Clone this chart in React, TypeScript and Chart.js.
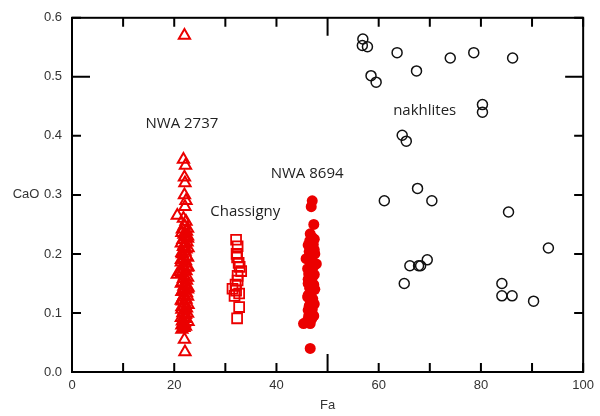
import React, { useEffect, useRef } from "react";
import { Chart, registerables } from "chart.js";

Chart.register(...registerables);

// NWA 2737 (open red triangles)
const FA_NWA2737 = [22.0, 21.8, 22.2, 22.0, 22.1, 22.0, 22.3, 22.1, 20.6, 21.8, 22.3, 22.0, 21.6, 22.4, 21.9, 22.2,
  21.7, 22.5, 22.0, 21.8, 22.3, 22.1, 21.6, 22.4, 21.9, 22.2, 22.0, 21.7, 22.5, 21.9, 22.3, 21.2, 20.6, 22.0, 21.8,
  22.4, 21.6, 22.2, 21.9, 22.1, 21.7, 22.4, 22.0, 21.8, 22.3, 21.6, 22.1, 21.9, 22.4, 22.0, 21.7, 22.2, 21.9, 22.3,
  21.6, 22.0, 21.8, 22.2, 21.5, 21.9, 22.0, 22.1,
  22.6, 21.5, 22.6, 21.4, 22.7, 21.5, 22.6, 21.4, 22.7, 21.5, 22.6, 21.4, 22.7, 21.5, 22.6, 21.4, 22.7, 21.5, 22.6,
  21.4, 22.7, 21.5, 22.6, 21.4, 22.6, 21.5];
const CAO_NWA2737 = [0.57, 0.36, 0.35, 0.33, 0.32, 0.30, 0.29, 0.28, 0.265, 0.26, 0.255, 0.248, 0.242, 0.238, 0.233,
  0.228, 0.224, 0.22, 0.216, 0.212, 0.208, 0.204, 0.2, 0.196, 0.192, 0.188, 0.184, 0.18, 0.177, 0.174, 0.171, 0.17,
  0.165, 0.162, 0.158, 0.155, 0.152, 0.148, 0.145, 0.141, 0.138, 0.134, 0.13, 0.127, 0.123, 0.12, 0.116, 0.112,
  0.108, 0.104, 0.1, 0.097, 0.093, 0.09, 0.086, 0.083, 0.08, 0.077, 0.072, 0.075, 0.055, 0.034,
  0.243, 0.236, 0.226, 0.218, 0.21, 0.202, 0.194, 0.186, 0.178, 0.168, 0.16, 0.15, 0.143, 0.136, 0.128, 0.121, 0.114,
  0.106, 0.099, 0.092, 0.085, 0.079, 0.14, 0.19, 0.23, 0.11];

// Chassigny (open red squares)
const FA_CHASSIGNY = [32.1, 32.4, 32.2, 32.3, 32.6, 32.8, 33.1, 32.4, 32.4, 32.0, 31.4, 32.1, 32.7, 31.8, 32.7, 32.3];
const CAO_CHASSIGNY = [0.224, 0.213, 0.2, 0.194, 0.185, 0.178, 0.171, 0.163, 0.155, 0.148, 0.141, 0.138, 0.133,
  0.129, 0.11, 0.091];

// NWA 8694 (filled red circles)
const FA_NWA8694 = [47.0, 46.8, 47.3, 46.6, 47.0, 46.5, 47.2, 46.8, 46.4, 47.1, 45.8, 47.8, 46.6, 47.2, 46.9, 46.3,
  47.0, 46.6, 47.3, 46.5, 46.9, 46.2, 47.1, 46.7, 46.4, 47.0, 46.6, 46.3, 46.9, 46.5, 45.3, 46.6, 46.6,
  47.4, 46.2, 47.5, 46.1, 47.4, 46.2, 47.5, 46.1, 47.4, 46.2, 47.3, 46.1, 47.4, 46.2];
const CAO_NWA8694 = [0.29, 0.28, 0.25, 0.234, 0.228, 0.222, 0.216, 0.21, 0.204, 0.198, 0.192, 0.183, 0.186, 0.178,
  0.172, 0.166, 0.16, 0.154, 0.148, 0.142, 0.136, 0.13, 0.124, 0.118, 0.112, 0.106, 0.1, 0.095, 0.09, 0.086, 0.082,
  0.082, 0.04,
  0.225, 0.215, 0.2, 0.175, 0.165, 0.15, 0.14, 0.127, 0.115, 0.105, 0.095, 0.088, 0.207, 0.157];

// nakhlites (open black circles)
const FA_NAKHLITES = [56.9, 56.8, 57.8, 63.6, 74.0, 78.6, 86.2, 67.4, 58.5, 59.5, 80.3, 80.3, 64.6, 65.4, 67.6, 61.1,
  70.4, 85.4, 93.2, 69.5, 66.1, 67.8, 68.2, 65.0, 84.1, 84.1, 86.1, 90.3];
const CAO_NAKHLITES = [0.564, 0.553, 0.551, 0.541, 0.532, 0.541, 0.532, 0.51, 0.502, 0.491, 0.453, 0.44, 0.401, 0.391,
  0.311, 0.29, 0.29, 0.271, 0.21, 0.19, 0.18, 0.18, 0.18, 0.15, 0.15, 0.129, 0.129, 0.12];

const X_TICKS = [0, 10, 20, 30, 40, 50, 60, 70, 80, 90, 100];
const Y_TICKS = [0, 0.1, 0.2, 0.3, 0.4, 0.5, 0.6];

const GROUP_LABELS = ["NWA 2737", "Chassigny", "NWA 8694", "nakhlites"];
const GROUP_LABEL_FA = [21.5, 33.9, 46.0, 69.0];
const GROUP_LABEL_CAO = [0.42, 0.271, 0.336, 0.442];

const zip = (xs: number[], ys: number[]) => xs.map((x, i) => ({ x, y: ys[i] }));

const RED = "rgb(235,0,0)";

const decorPlugin = {
  id: "decor",
  afterDraw(chart: any) {
    const { ctx, chartArea: a, scales } = chart;
    const xs = scales.x;
    const ys = scales.y;
    ctx.save();
    ctx.strokeStyle = "#000";
    ctx.lineWidth = 2;
    ctx.strokeRect(a.left, a.top, a.right - a.left, a.bottom - a.top);
    ctx.beginPath();
    X_TICKS.forEach((v) => {
      const px = xs.getPixelForValue(v);
      const len = v === 50 ? 18 : 9;
      ctx.moveTo(px, a.bottom);
      ctx.lineTo(px, a.bottom - len);
      ctx.moveTo(px, a.top);
      ctx.lineTo(px, a.top + len);
    });
    Y_TICKS.forEach((v) => {
      const py = ys.getPixelForValue(v);
      const len = Math.abs(v - 0.5) < 1e-9 ? 18 : 9;
      ctx.moveTo(a.left, py);
      ctx.lineTo(a.left + len, py);
      ctx.moveTo(a.right, py);
      ctx.lineTo(a.right - len, py);
    });
    ctx.stroke();

    ctx.fillStyle = "#333";
    ctx.font = "13px 'Liberation Sans', Arial, sans-serif";
    ctx.textAlign = "center";
    ctx.textBaseline = "middle";
    ctx.fillText("Fa", (a.left + a.right) / 2, 405);
    ctx.fillText("CaO", 26, ys.getPixelForValue(0.3));

    ctx.fillStyle = "#222";
    ctx.font = "15px 'Open Sans', sans-serif";
    GROUP_LABELS.forEach((t, i) => {
      ctx.fillText(t, xs.getPixelForValue(GROUP_LABEL_FA[i]), ys.getPixelForValue(GROUP_LABEL_CAO[i]));
    });
    ctx.restore();
  },
};

export default function App() {
  const ref = useRef<HTMLCanvasElement | null>(null);
  useEffect(() => {
    if (!ref.current) return;
    const chart = new Chart(ref.current, {
      type: "scatter",
      data: {
        datasets: [
          {
            label: "NWA 2737",
            data: zip(FA_NWA2737, CAO_NWA2737),
            pointStyle: "triangle",
            pointRadius: 6.5,
            borderColor: RED,
            backgroundColor: "rgba(0,0,0,0)",
            borderWidth: 2,
          },
          {
            label: "Chassigny",
            data: zip(FA_CHASSIGNY, CAO_CHASSIGNY),
            pointStyle: "rect",
            pointRadius: 7,
            borderColor: RED,
            backgroundColor: "rgba(0,0,0,0)",
            borderWidth: 1.8,
          },
          {
            label: "NWA 8694",
            data: zip(FA_NWA8694, CAO_NWA8694),
            pointStyle: "circle",
            pointRadius: 5.5,
            borderColor: RED,
            backgroundColor: RED,
            borderWidth: 0,
          },
          {
            label: "nakhlites",
            data: zip(FA_NAKHLITES, CAO_NAKHLITES),
            pointStyle: "circle",
            pointRadius: 5,
            borderColor: "#111",
            backgroundColor: "rgba(0,0,0,0)",
            borderWidth: 1.5,
          },
        ],
      },
      options: {
        animation: false,
        responsive: true,
        maintainAspectRatio: false,
        layout: { padding: { top: 14, right: 15, left: 0, bottom: 0 } },
        plugins: { legend: { display: false }, tooltip: { enabled: false } },
        scales: {
          x: {
            type: "linear",
            min: 0,
            max: 100,
            border: { display: false },
            grid: { display: false, drawTicks: false, tickLength: 0 },
            ticks: {
              stepSize: 20,
              padding: 6,
              color: "#333",
              font: { family: "'Liberation Sans', Arial, sans-serif", size: 13 },
              maxRotation: 0,
            },
            afterFit: (s: any) => {
              s.height = 44;
            },
          },
          y: {
            type: "linear",
            min: 0,
            max: 0.6,
            border: { display: false },
            grid: { display: false, drawTicks: false, tickLength: 0 },
            ticks: {
              stepSize: 0.1,
              padding: 10,
              color: "#333",
              font: { family: "'Liberation Sans', Arial, sans-serif", size: 13 },
              callback: (v: any) => Number(v).toFixed(1),
            },
            afterFit: (s: any) => {
              s.width = 72;
            },
          },
        },
      },
      plugins: [decorPlugin],
    });
    return () => chart.destroy();
  }, []);
  return (
    <div style={{ position: "fixed", left: 0, top: 0, width: 600, height: 416, background: "#fff" }}>
      <canvas ref={ref} />
    </div>
  );
}
